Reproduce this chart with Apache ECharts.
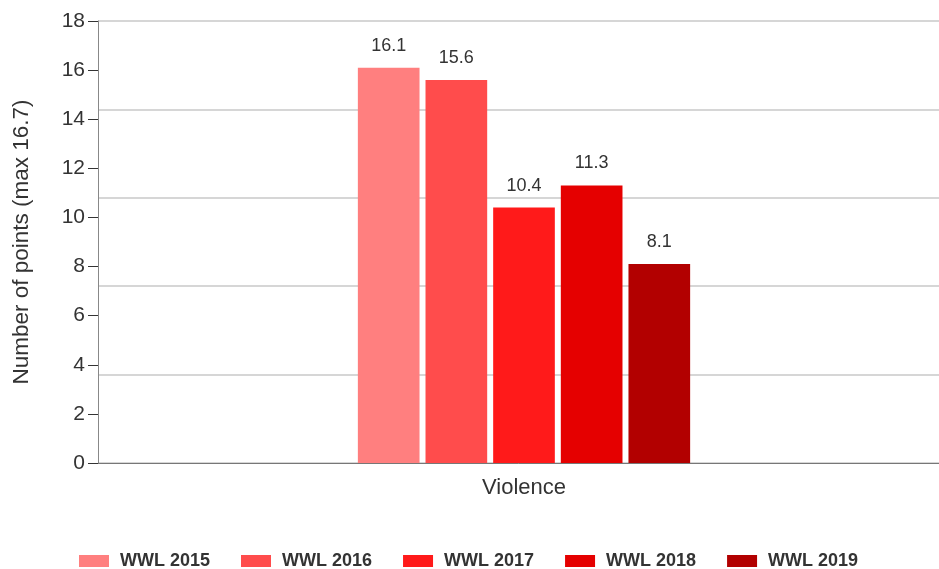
<!DOCTYPE html>
<html><head><meta charset="utf-8">
<script src="https://cdn.jsdelivr.net/npm/echarts@6/dist/echarts.min.js"></script>
<style>html,body{margin:0;padding:0;background:#fff}#c{width:939px;height:569px}</style>
</head><body><div id="c"></div>
<script>
const categories = ['Violence'];
const seriesNames = ['WWL 2015','WWL 2016','WWL 2017','WWL 2018','WWL 2019'];
const seriesValues = [[16.1],[15.6],[10.4],[11.3],[8.1]];
const colors = ['#FF7F7F','#FF4C4C','#FF1A1A','#E50000','#B20000'];
const yTicks = [0,2,4,6,8,10,12,14,16,18];

const chart = echarts.init(document.getElementById('c'));
const font = 'Liberation Sans, Arial, sans-serif';
chart.setOption({
  animation:false,
  grid:{left:98,top:21,width:852,height:442,outerBoundsMode:'none',containLabel:false},
  legend:{top:547,left:74,itemWidth:30,itemHeight:12,itemGap:31,
    icon:'rect',
    textStyle:{fontFamily:font,fontSize:18,fontWeight:'bold',color:'#333',padding:[0,0,0,6]},
    data:seriesNames},
  xAxis:{type:'category',data:categories,
    axisLine:{lineStyle:{color:'#777',width:1}},
    axisTick:{alignWithLabel:true,length:7,lineStyle:{color:'#333'}},
    axisLabel:{fontFamily:font,fontSize:22,color:'#333',margin:14}},
  yAxis:[{type:'value',min:0,max:18,interval:2,
    name:'Number of points (max 16.7)',nameLocation:'middle',nameGap:65,nameRotate:90,
    nameTextStyle:{fontFamily:font,fontSize:22.5,color:'#333'},
    axisLine:{show:true,lineStyle:{color:'#888'}},
    axisTick:{show:true,length:10,lineStyle:{color:'#333'}},
    axisLabel:{fontFamily:font,fontSize:21,color:'#333',margin:13,
      formatter:v=>yTicks.includes(v)?String(v):''},
    splitLine:{show:false}},
   {type:'value',min:0,max:18,interval:3.6,position:'left',
    axisLine:{show:false},axisTick:{show:false},axisLabel:{show:false},
    splitLine:{show:true,lineStyle:{color:'#c8c8c8',width:1.5}}}],
  series:seriesNames.map((n,i)=>({name:n,type:'bar',data:seriesValues[i],
    itemStyle:{color:colors[i]},barGap:'9.7%',barCategoryGap:'61%',
    label:{show:true,position:'top',distance:13,fontFamily:font,fontSize:18,color:'#333'}}))
});
</script></body></html>
